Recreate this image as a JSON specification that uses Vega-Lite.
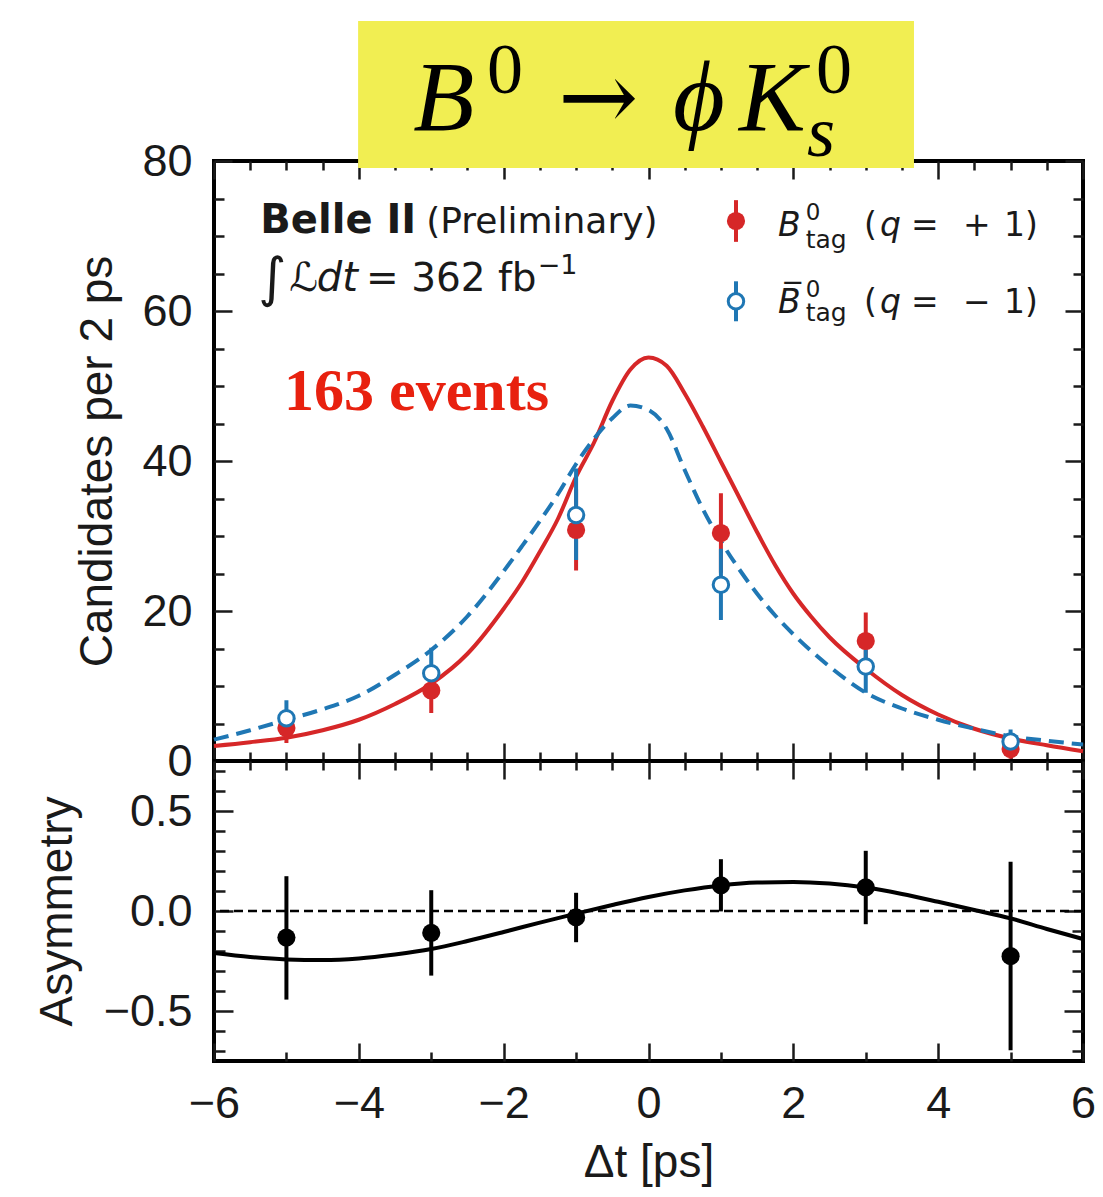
{
  "$schema": "https://vega.github.io/schema/vega-lite/v6.json",
  "padding": {"left": 32, "top": 18, "right": 4, "bottom": 4},
  "spacing": 0,
  "bounds": "flush",
  "background": "white",
  "config": {
    "concat": {"spacing": 0},
    "view": {"stroke": "black", "strokeWidth": 4},
    "axis": {"labelFont": "Liberation Sans", "labelFontSize": 45, "titleFont": "Liberation Sans", "titleFontSize": 46, "titleFontWeight": "normal", "labelColor": "#1a1a1a", "titleColor": "#1a1a1a", "tickColor": "#1a1a1a", "tickWidth": 2.5, "domain": false, "grid": false, "labelOverlap": false, "labelFlush": false, "ticks": true, "minExtent": 0}
  },
  "datasets": {
    "one": [{}],
    "pts": [
      {"t": -5, "tag": "B0", "n": 4.4, "lo": 2.4, "hi": 6.4},
      {"t": -3, "tag": "B0", "n": 9.4, "lo": 6.4, "hi": 12.4},
      {"t": -1, "tag": "B0", "n": 30.8, "lo": 25.4, "hi": 36.2},
      {"t": 1, "tag": "B0", "n": 30.4, "lo": 25.1, "hi": 35.7},
      {"t": 3, "tag": "B0", "n": 16.0, "lo": 12.1, "hi": 19.8},
      {"t": 5, "tag": "B0", "n": 1.6, "lo": 0.3, "hi": 2.9},
      {"t": -5, "tag": "B0bar", "n": 5.7, "lo": 3.4, "hi": 8.1},
      {"t": -3, "tag": "B0bar", "n": 11.7, "lo": 8.4, "hi": 15.1},
      {"t": -1, "tag": "B0bar", "n": 32.8, "lo": 26.8, "hi": 39.0},
      {"t": 1, "tag": "B0bar", "n": 23.5, "lo": 18.8, "hi": 28.3},
      {"t": 3, "tag": "B0bar", "n": 12.6, "lo": 9.1, "hi": 16.2},
      {"t": 5, "tag": "B0bar", "n": 2.6, "lo": 1.0, "hi": 4.2}
    ],
    "fit": [
      {"t": -6, "tag": "B0", "n": 2.0}, {"t": -5.5, "tag": "B0", "n": 2.5}, {"t": -5, "tag": "B0", "n": 3.1}, {"t": -4.5, "tag": "B0", "n": 4.1}, {"t": -4, "tag": "B0", "n": 5.5}, {"t": -3.5, "tag": "B0", "n": 7.6}, {"t": -3, "tag": "B0", "n": 10.3}, {"t": -2.5, "tag": "B0", "n": 14.3}, {"t": -2, "tag": "B0", "n": 20.3}, {"t": -1.75, "tag": "B0", "n": 23.8}, {"t": -1.5, "tag": "B0", "n": 27.9}, {"t": -1.25, "tag": "B0", "n": 32.3}, {"t": -1, "tag": "B0", "n": 37.9}, {"t": -0.75, "tag": "B0", "n": 42.5}, {"t": -0.5, "tag": "B0", "n": 48.0}, {"t": -0.25, "tag": "B0", "n": 52.2}, {"t": 0, "tag": "B0", "n": 53.8}, {"t": 0.25, "tag": "B0", "n": 52.7}, {"t": 0.5, "tag": "B0", "n": 49.0}, {"t": 0.75, "tag": "B0", "n": 44.6}, {"t": 1, "tag": "B0", "n": 39.9}, {"t": 1.25, "tag": "B0", "n": 35.2}, {"t": 1.5, "tag": "B0", "n": 30.5}, {"t": 1.75, "tag": "B0", "n": 26.1}, {"t": 2, "tag": "B0", "n": 22.3}, {"t": 2.25, "tag": "B0", "n": 19.2}, {"t": 2.5, "tag": "B0", "n": 16.5}, {"t": 3, "tag": "B0", "n": 12.3}, {"t": 3.5, "tag": "B0", "n": 8.8}, {"t": 4, "tag": "B0", "n": 6.2}, {"t": 4.5, "tag": "B0", "n": 4.3}, {"t": 5, "tag": "B0", "n": 3.0}, {"t": 5.5, "tag": "B0", "n": 2.1}, {"t": 6, "tag": "B0", "n": 1.3},
      {"t": -6, "tag": "B0bar", "n": 2.85}, {"t": -5.5, "tag": "B0bar", "n": 4.1}, {"t": -5, "tag": "B0bar", "n": 5.5}, {"t": -4.5, "tag": "B0bar", "n": 6.9}, {"t": -4, "tag": "B0bar", "n": 8.7}, {"t": -3.5, "tag": "B0bar", "n": 11.5}, {"t": -3, "tag": "B0bar", "n": 14.8}, {"t": -2.5, "tag": "B0bar", "n": 19.3}, {"t": -2, "tag": "B0bar", "n": 25.3}, {"t": -1.75, "tag": "B0bar", "n": 28.6}, {"t": -1.5, "tag": "B0bar", "n": 32.0}, {"t": -1.25, "tag": "B0bar", "n": 35.6}, {"t": -1, "tag": "B0bar", "n": 39.6}, {"t": -0.75, "tag": "B0bar", "n": 43.0}, {"t": -0.5, "tag": "B0bar", "n": 45.7}, {"t": -0.25, "tag": "B0bar", "n": 47.4}, {"t": 0, "tag": "B0bar", "n": 46.8}, {"t": 0.25, "tag": "B0bar", "n": 44.3}, {"t": 0.5, "tag": "B0bar", "n": 38.8}, {"t": 0.75, "tag": "B0bar", "n": 33.6}, {"t": 1, "tag": "B0bar", "n": 29.3}, {"t": 1.25, "tag": "B0bar", "n": 25.6}, {"t": 1.5, "tag": "B0bar", "n": 22.3}, {"t": 1.75, "tag": "B0bar", "n": 19.4}, {"t": 2, "tag": "B0bar", "n": 16.9}, {"t": 2.5, "tag": "B0bar", "n": 12.6}, {"t": 3, "tag": "B0bar", "n": 9.1}, {"t": 3.5, "tag": "B0bar", "n": 7.0}, {"t": 4, "tag": "B0bar", "n": 5.5}, {"t": 4.5, "tag": "B0bar", "n": 4.3}, {"t": 5, "tag": "B0bar", "n": 3.3}, {"t": 5.5, "tag": "B0bar", "n": 2.7}, {"t": 6, "tag": "B0bar", "n": 2.2}
    ],
    "asym": [
      {"t": -5, "a": -0.133, "lo": -0.443, "hi": 0.174},
      {"t": -3, "a": -0.109, "lo": -0.323, "hi": 0.104},
      {"t": -1, "a": -0.032, "lo": -0.156, "hi": 0.091},
      {"t": 1, "a": 0.128, "lo": -0.002, "hi": 0.259},
      {"t": 3, "a": 0.118, "lo": -0.066, "hi": 0.301},
      {"t": 5, "a": -0.226, "lo": -0.696, "hi": 0.246}
    ],
    "asymfit": [
      {"t": -6, "a": -0.21}, {"t": -5.5, "a": -0.23}, {"t": -5, "a": -0.242}, {"t": -4.5, "a": -0.245}, {"t": -4, "a": -0.237}, {"t": -3.5, "a": -0.217}, {"t": -3, "a": -0.19}, {"t": -2.5, "a": -0.15}, {"t": -2, "a": -0.105}, {"t": -1.5, "a": -0.058}, {"t": -1, "a": -0.013}, {"t": -0.5, "a": 0.03}, {"t": 0, "a": 0.07}, {"t": 0.5, "a": 0.103}, {"t": 1, "a": 0.128}, {"t": 1.5, "a": 0.142}, {"t": 2, "a": 0.145}, {"t": 2.5, "a": 0.137}, {"t": 3, "a": 0.117}, {"t": 3.5, "a": 0.085}, {"t": 4, "a": 0.046}, {"t": 4.5, "a": 0.005}, {"t": 5, "a": -0.037}, {"t": 5.5, "a": -0.09}, {"t": 6, "a": -0.14}
    ]
  },
  "vconcat": [
    {
      "width": 869,
      "height": 600,
      "resolve": {"axis": {"x": "independent", "y": "independent"}},
      "layer": [
        {
          "data": {"name": "fit"},
          "transform": [{"filter": "datum.tag === 'B0'"}],
          "mark": {"type": "line", "color": "#d62728", "strokeWidth": 4, "interpolate": "monotone"},
          "encoding": {
            "x": {"field": "t", "type": "quantitative", "scale": {"domain": [-6, 6], "nice": false, "zero": false},
              "axis": {"orient": "bottom", "values": [-6,-5.5,-5,-4.5,-4,-3.5,-3,-2.5,-2,-1.5,-1,-0.5,0,0.5,1,1.5,2,2.5,3,3.5,4,4.5,5,5.5,6], "labels": false, "title": null, "tickSize": {"condition": {"test": "datum.value % 2 === 0", "value": -18}, "value": -9}}},
            "y": {"field": "n", "type": "quantitative", "scale": {"domain": [0, 80], "nice": false, "zero": false},
              "axis": {"orient": "left", "values": [0,5,10,15,20,25,30,35,40,45,50,55,60,65,70,75,80], "format": "d", "labelExpr": "datum.value % 20 === 0 ? datum.label : ''", "labelPadding": 40, "title": "Candidates per 2 ps", "titlePadding": 20, "tickSize": {"condition": {"test": "datum.value % 20 === 0", "value": -18}, "value": -10}}}
          }
        },
        {
          "data": {"name": "fit"},
          "transform": [{"filter": "datum.tag === 'B0bar'"}],
          "mark": {"type": "line", "color": "#1f77b4", "strokeWidth": 4, "strokeDash": [15, 8], "interpolate": "monotone"},
          "encoding": {
            "x": {"field": "t", "type": "quantitative", "scale": {"domain": [-6, 6], "nice": false, "zero": false},
              "axis": {"orient": "top", "values": [-6,-5.5,-5,-4.5,-4,-3.5,-3,-2.5,-2,-1.5,-1,-0.5,0,0.5,1,1.5,2,2.5,3,3.5,4,4.5,5,5.5,6], "labels": false, "title": null, "tickSize": {"condition": {"test": "datum.value % 2 === 0", "value": -18}, "value": -9}}},
            "y": {"field": "n", "type": "quantitative", "scale": {"domain": [0, 80], "nice": false, "zero": false},
              "axis": {"orient": "right", "values": [0,5,10,15,20,25,30,35,40,45,50,55,60,65,70,75,80], "labels": false, "title": null, "tickSize": {"condition": {"test": "datum.value % 20 === 0", "value": -18}, "value": -10}}}
          }
        },
        {
          "data": {"name": "pts"},
          "transform": [{"filter": "datum.tag === 'B0'"}],
          "mark": {"type": "rule", "color": "#d62728", "strokeWidth": 4},
          "encoding": {
            "x": {"field": "t", "type": "quantitative", "scale": {"domain": [-6, 6], "nice": false, "zero": false}, "axis": null},
            "y": {"field": "lo", "type": "quantitative", "scale": {"domain": [0, 80], "nice": false, "zero": false}, "axis": null},
            "y2": {"field": "hi"}
          }
        },
        {
          "data": {"name": "pts"},
          "transform": [{"filter": "datum.tag === 'B0bar'"}],
          "mark": {"type": "rule", "color": "#1f77b4", "strokeWidth": 4},
          "encoding": {
            "x": {"field": "t", "type": "quantitative", "scale": {"domain": [-6, 6], "nice": false, "zero": false}, "axis": null},
            "y": {"field": "lo", "type": "quantitative", "scale": {"domain": [0, 80], "nice": false, "zero": false}, "axis": null},
            "y2": {"field": "hi"}
          }
        },
        {
          "data": {"name": "pts"},
          "transform": [{"filter": "datum.tag === 'B0'"}],
          "mark": {"type": "point", "shape": "circle", "filled": true, "color": "#d62728", "size": 330, "opacity": 1},
          "encoding": {
            "x": {"field": "t", "type": "quantitative", "scale": {"domain": [-6, 6], "nice": false, "zero": false}, "axis": null},
            "y": {"field": "n", "type": "quantitative", "scale": {"domain": [0, 80], "nice": false, "zero": false}, "axis": null}
          }
        },
        {
          "data": {"name": "pts"},
          "transform": [{"filter": "datum.tag === 'B0bar'"}],
          "mark": {"type": "point", "shape": "circle", "filled": false, "fill": "white", "fillOpacity": 1, "stroke": "#1f77b4", "strokeWidth": 3, "size": 240, "opacity": 1},
          "encoding": {
            "x": {"field": "t", "type": "quantitative", "scale": {"domain": [-6, 6], "nice": false, "zero": false}, "axis": null},
            "y": {"field": "n", "type": "quantitative", "scale": {"domain": [0, 80], "nice": false, "zero": false}, "axis": null}
          }
        },
        {
          "data": {"name": "one"},
          "mark": {"type": "rect", "color": "#f1ee52"},
          "encoding": {
            "x": {"datum": -4.01, "type": "quantitative", "scale": {"domain": [-6, 6], "nice": false, "zero": false}, "axis": null},
            "x2": {"datum": 3.666},
            "y": {"datum": 79.07, "type": "quantitative", "scale": {"domain": [0, 80], "nice": false, "zero": false}, "axis": null},
            "y2": {"datum": 98.67}
          }
        },
        {"data": {"name": "one"}, "mark": {"type": "text", "text": "B", "font": "Liberation Serif", "fontStyle": "italic", "fontSize": 100, "align": "left", "baseline": "alphabetic", "color": "black"},
          "encoding": {"x": {"datum": -3.25, "type": "quantitative", "axis": null}, "y": {"datum": 84.13, "type": "quantitative", "axis": null}}},
        {"data": {"name": "one"}, "mark": {"type": "text", "text": "0", "font": "Liberation Serif", "fontSize": 72, "align": "left", "baseline": "alphabetic", "color": "black"},
          "encoding": {"x": {"datum": -2.231, "type": "quantitative", "axis": null}, "y": {"datum": 89.07, "type": "quantitative", "axis": null}}},
        {"data": {"name": "one"}, "mark": {"type": "text", "text": "→", "font": "DejaVu Serif", "fontSize": 96, "align": "left", "baseline": "alphabetic", "color": "black"},
          "encoding": {"x": {"datum": -1.25, "type": "quantitative", "axis": null}, "y": {"datum": 84.13, "type": "quantitative", "axis": null}}},
        {"data": {"name": "one"}, "mark": {"type": "text", "text": "ϕ", "font": "Liberation Serif", "fontStyle": "italic", "fontSize": 100, "align": "left", "baseline": "alphabetic", "color": "black"},
          "encoding": {"x": {"datum": 0.338, "type": "quantitative", "axis": null}, "y": {"datum": 84.13, "type": "quantitative", "axis": null}}},
        {"data": {"name": "one"}, "mark": {"type": "text", "text": "K", "font": "Liberation Serif", "fontStyle": "italic", "fontSize": 100, "align": "left", "baseline": "alphabetic", "color": "black"},
          "encoding": {"x": {"datum": 1.249, "type": "quantitative", "axis": null}, "y": {"datum": 84.13, "type": "quantitative", "axis": null}}},
        {"data": {"name": "one"}, "mark": {"type": "text", "text": "0", "font": "Liberation Serif", "fontSize": 72, "align": "left", "baseline": "alphabetic", "color": "black"},
          "encoding": {"x": {"datum": 2.313, "type": "quantitative", "axis": null}, "y": {"datum": 89.07, "type": "quantitative", "axis": null}}},
        {"data": {"name": "one"}, "mark": {"type": "text", "text": "s", "font": "Liberation Serif", "fontStyle": "italic", "fontSize": 72, "align": "left", "baseline": "alphabetic", "color": "black"},
          "encoding": {"x": {"datum": 2.189, "type": "quantitative", "axis": null}, "y": {"datum": 80.67, "type": "quantitative", "axis": null}}},
        {"data": {"name": "one"}, "mark": {"type": "text", "text": "Belle II", "font": "DejaVu Sans", "fontWeight": "bold", "fontSize": 40, "align": "left", "baseline": "alphabetic", "color": "#1a1a1a"},
          "encoding": {"x": {"datum": -5.36, "type": "quantitative", "axis": null}, "y": {"datum": 70.4, "type": "quantitative", "axis": null}}},
        {"data": {"name": "one"}, "mark": {"type": "text", "text": "(Preliminary)", "font": "DejaVu Sans", "fontSize": 36, "align": "left", "baseline": "alphabetic", "color": "#1a1a1a"},
          "encoding": {"x": {"datum": -3.07, "type": "quantitative", "axis": null}, "y": {"datum": 70.4, "type": "quantitative", "axis": null}}},
        {"data": {"name": "one"}, "mark": {"type": "text", "text": "∫", "font": "DejaVu Sans", "fontSize": 54, "align": "left", "baseline": "alphabetic", "color": "#1a1a1a"},
          "encoding": {"x": {"datum": -5.39, "type": "quantitative", "axis": null}, "y": {"datum": 62.0, "type": "quantitative", "axis": null}}},
        {"data": {"name": "one"}, "mark": {"type": "text", "text": "ℒ", "font": "DejaVu Sans", "fontSize": 40, "align": "left", "baseline": "alphabetic", "color": "#1a1a1a"},
          "encoding": {"x": {"datum": -4.96, "type": "quantitative", "axis": null}, "y": {"datum": 62.67, "type": "quantitative", "axis": null}}},
        {"data": {"name": "one"}, "mark": {"type": "text", "text": "dt", "font": "DejaVu Sans", "fontStyle": "italic", "fontSize": 40, "align": "left", "baseline": "alphabetic", "color": "#1a1a1a"},
          "encoding": {"x": {"datum": -4.58, "type": "quantitative", "axis": null}, "y": {"datum": 62.67, "type": "quantitative", "axis": null}}},
        {"data": {"name": "one"}, "mark": {"type": "text", "text": "= 362 fb", "font": "DejaVu Sans", "fontSize": 39, "align": "left", "baseline": "alphabetic", "color": "#1a1a1a"},
          "encoding": {"x": {"datum": -3.9, "type": "quantitative", "axis": null}, "y": {"datum": 62.67, "type": "quantitative", "axis": null}}},
        {"data": {"name": "one"}, "mark": {"type": "text", "text": "−1", "font": "DejaVu Sans", "fontSize": 27, "align": "left", "baseline": "alphabetic", "color": "#1a1a1a"},
          "encoding": {"x": {"datum": -1.53, "type": "quantitative", "axis": null}, "y": {"datum": 64.87, "type": "quantitative", "axis": null}}},
        {"data": {"name": "one"}, "mark": {"type": "text", "text": "163 events", "font": "Liberation Serif", "fontWeight": "bold", "fontSize": 60, "align": "left", "baseline": "alphabetic", "color": "#e8210f"},
          "encoding": {"x": {"datum": -5.033, "type": "quantitative", "axis": null}, "y": {"datum": 46.8, "type": "quantitative", "axis": null}}},
        {"data": {"name": "one"}, "mark": {"type": "rule", "color": "#d62728", "strokeWidth": 4},
          "encoding": {"x": {"datum": 1.208, "type": "quantitative", "axis": null}, "y": {"datum": 69.22, "type": "quantitative", "axis": null}, "y2": {"datum": 74.78}}},
        {"data": {"name": "one"}, "mark": {"type": "point", "shape": "circle", "filled": true, "color": "#d62728", "size": 330, "opacity": 1},
          "encoding": {"x": {"datum": 1.208, "type": "quantitative", "axis": null}, "y": {"datum": 72.0, "type": "quantitative", "axis": null}}},
        {"data": {"name": "one"}, "mark": {"type": "rule", "color": "#1f77b4", "strokeWidth": 4},
          "encoding": {"x": {"datum": 1.208, "type": "quantitative", "axis": null}, "y": {"datum": 58.63, "type": "quantitative", "axis": null}, "y2": {"datum": 63.96}}},
        {"data": {"name": "one"}, "mark": {"type": "point", "shape": "circle", "filled": false, "fill": "white", "fillOpacity": 1, "stroke": "#1f77b4", "strokeWidth": 3, "size": 240, "opacity": 1},
          "encoding": {"x": {"datum": 1.208, "type": "quantitative", "axis": null}, "y": {"datum": 61.29, "type": "quantitative", "axis": null}}},
        {"data": {"name": "one"}, "mark": {"type": "text", "text": "B", "font": "DejaVu Sans", "fontStyle": "italic", "fontSize": 33, "align": "left", "baseline": "alphabetic", "color": "#1a1a1a"},
          "encoding": {"x": {"datum": 1.788, "type": "quantitative", "axis": null}, "y": {"datum": 69.96, "type": "quantitative", "axis": null}}},
        {"data": {"name": "one"}, "mark": {"type": "text", "text": "0", "font": "DejaVu Sans", "fontSize": 23, "align": "left", "baseline": "alphabetic", "color": "#1a1a1a"},
          "encoding": {"x": {"datum": 2.17, "type": "quantitative", "axis": null}, "y": {"datum": 72.13, "type": "quantitative", "axis": null}}},
        {"data": {"name": "one"}, "mark": {"type": "text", "text": "tag", "font": "DejaVu Sans", "fontSize": 25, "align": "left", "baseline": "alphabetic", "color": "#1a1a1a"},
          "encoding": {"x": {"datum": 2.17, "type": "quantitative", "axis": null}, "y": {"datum": 68.44, "type": "quantitative", "axis": null}}},
        {"data": {"name": "one"}, "mark": {"type": "text", "text": "(", "font": "DejaVu Sans", "fontSize": 33, "align": "left", "baseline": "alphabetic", "color": "#1a1a1a"},
          "encoding": {"x": {"datum": 2.975, "type": "quantitative", "axis": null}, "y": {"datum": 69.96, "type": "quantitative", "axis": null}}},
        {"data": {"name": "one"}, "mark": {"type": "text", "text": "q", "font": "DejaVu Sans", "fontStyle": "italic", "fontSize": 33, "align": "left", "baseline": "alphabetic", "color": "#1a1a1a"},
          "encoding": {"x": {"datum": 3.197, "type": "quantitative", "axis": null}, "y": {"datum": 69.96, "type": "quantitative", "axis": null}}},
        {"data": {"name": "one"}, "mark": {"type": "text", "text": "=", "font": "DejaVu Sans", "fontSize": 33, "align": "left", "baseline": "alphabetic", "color": "#1a1a1a"},
          "encoding": {"x": {"datum": 3.625, "type": "quantitative", "axis": null}, "y": {"datum": 69.96, "type": "quantitative", "axis": null}}},
        {"data": {"name": "one"}, "mark": {"type": "text", "text": "+", "font": "DejaVu Sans", "fontSize": 33, "align": "left", "baseline": "alphabetic", "color": "#1a1a1a"},
          "encoding": {"x": {"datum": 4.343, "type": "quantitative", "axis": null}, "y": {"datum": 69.96, "type": "quantitative", "axis": null}}},
        {"data": {"name": "one"}, "mark": {"type": "text", "text": "1)", "font": "DejaVu Sans", "fontSize": 33, "align": "left", "baseline": "alphabetic", "color": "#1a1a1a"},
          "encoding": {"x": {"datum": 4.909, "type": "quantitative", "axis": null}, "y": {"datum": 69.96, "type": "quantitative", "axis": null}}},
        {"data": {"name": "one"}, "mark": {"type": "text", "text": "B̅", "font": "DejaVu Sans", "fontStyle": "italic", "fontSize": 33, "align": "left", "baseline": "alphabetic", "color": "#1a1a1a"},
          "encoding": {"x": {"datum": 1.788, "type": "quantitative", "axis": null}, "y": {"datum": 59.73, "type": "quantitative", "axis": null}}},
        {"data": {"name": "one"}, "mark": {"type": "text", "text": "0", "font": "DejaVu Sans", "fontSize": 23, "align": "left", "baseline": "alphabetic", "color": "#1a1a1a"},
          "encoding": {"x": {"datum": 2.17, "type": "quantitative", "axis": null}, "y": {"datum": 61.87, "type": "quantitative", "axis": null}}},
        {"data": {"name": "one"}, "mark": {"type": "text", "text": "tag", "font": "DejaVu Sans", "fontSize": 25, "align": "left", "baseline": "alphabetic", "color": "#1a1a1a"},
          "encoding": {"x": {"datum": 2.17, "type": "quantitative", "axis": null}, "y": {"datum": 58.63, "type": "quantitative", "axis": null}}},
        {"data": {"name": "one"}, "mark": {"type": "text", "text": "(", "font": "DejaVu Sans", "fontSize": 33, "align": "left", "baseline": "alphabetic", "color": "#1a1a1a"},
          "encoding": {"x": {"datum": 2.975, "type": "quantitative", "axis": null}, "y": {"datum": 59.73, "type": "quantitative", "axis": null}}},
        {"data": {"name": "one"}, "mark": {"type": "text", "text": "q", "font": "DejaVu Sans", "fontStyle": "italic", "fontSize": 33, "align": "left", "baseline": "alphabetic", "color": "#1a1a1a"},
          "encoding": {"x": {"datum": 3.197, "type": "quantitative", "axis": null}, "y": {"datum": 59.73, "type": "quantitative", "axis": null}}},
        {"data": {"name": "one"}, "mark": {"type": "text", "text": "=", "font": "DejaVu Sans", "fontSize": 33, "align": "left", "baseline": "alphabetic", "color": "#1a1a1a"},
          "encoding": {"x": {"datum": 3.625, "type": "quantitative", "axis": null}, "y": {"datum": 59.73, "type": "quantitative", "axis": null}}},
        {"data": {"name": "one"}, "mark": {"type": "text", "text": "−", "font": "DejaVu Sans", "fontSize": 33, "align": "left", "baseline": "alphabetic", "color": "#1a1a1a"},
          "encoding": {"x": {"datum": 4.343, "type": "quantitative", "axis": null}, "y": {"datum": 59.73, "type": "quantitative", "axis": null}}},
        {"data": {"name": "one"}, "mark": {"type": "text", "text": "1)", "font": "DejaVu Sans", "fontSize": 33, "align": "left", "baseline": "alphabetic", "color": "#1a1a1a"},
          "encoding": {"x": {"datum": 4.909, "type": "quantitative", "axis": null}, "y": {"datum": 59.73, "type": "quantitative", "axis": null}}}
      ]
    },
    {
      "width": 869,
      "height": 300,
      "resolve": {"axis": {"x": "independent", "y": "independent"}},
      "layer": [
        {
          "data": {"name": "asymfit"},
          "mark": {"type": "line", "color": "black", "strokeWidth": 4, "interpolate": "monotone"},
          "encoding": {
            "x": {"field": "t", "type": "quantitative", "scale": {"domain": [-6, 6], "nice": false, "zero": false},
              "axis": {"orient": "bottom", "values": [-6,-5.5,-5,-4.5,-4,-3.5,-3,-2.5,-2,-1.5,-1,-0.5,0,0.5,1,1.5,2,2.5,3,3.5,4,4.5,5,5.5,6], "format": "d", "labelExpr": "datum.value % 2 === 0 ? datum.label : ''", "labelPadding": 38, "title": "Δt [ps]", "titlePadding": 5, "tickSize": {"condition": {"test": "datum.value % 2 === 0", "value": -18}, "value": -9}}},
            "y": {"field": "a", "type": "quantitative", "scale": {"domain": [-0.75, 0.75], "nice": false, "zero": false},
              "axis": {"orient": "left", "values": [-0.7,-0.6,-0.5,-0.4,-0.3,-0.2,-0.1,0,0.1,0.2,0.3,0.4,0.5,0.6,0.7], "format": ".1f", "labelExpr": "(datum.value === 0 || abs(datum.value) === 0.5) ? datum.label : ''", "labelPadding": 41, "title": "Asymmetry", "titlePadding": 22, "tickSize": {"condition": {"test": "datum.value === 0 || abs(datum.value) === 0.5", "value": -19}, "value": -11}}}
          }
        },
        {
          "data": {"name": "one"},
          "mark": {"type": "rule", "color": "black", "strokeWidth": 2.5, "strokeDash": [9, 5]},
          "encoding": {
            "y": {"datum": 0, "type": "quantitative", "scale": {"domain": [-0.75, 0.75], "nice": false, "zero": false}, "axis": null}
          }
        },
        {
          "data": {"name": "asym"},
          "mark": {"type": "rule", "color": "black", "strokeWidth": 4},
          "encoding": {
            "x": {"field": "t", "type": "quantitative", "scale": {"domain": [-6, 6], "nice": false, "zero": false},
              "axis": {"orient": "top", "values": [-6,-5.5,-5,-4.5,-4,-3.5,-3,-2.5,-2,-1.5,-1,-0.5,0,0.5,1,1.5,2,2.5,3,3.5,4,4.5,5,5.5,6], "labels": false, "title": null, "tickSize": {"condition": {"test": "datum.value % 2 === 0", "value": -18}, "value": -9}}},
            "y": {"field": "lo", "type": "quantitative", "scale": {"domain": [-0.75, 0.75], "nice": false, "zero": false},
              "axis": {"orient": "right", "values": [-0.7,-0.6,-0.5,-0.4,-0.3,-0.2,-0.1,0,0.1,0.2,0.3,0.4,0.5,0.6,0.7], "labels": false, "title": null, "tickSize": {"condition": {"test": "datum.value === 0 || abs(datum.value) === 0.5", "value": -19}, "value": -11}}},
            "y2": {"field": "hi"}
          }
        },
        {
          "data": {"name": "asym"},
          "mark": {"type": "point", "shape": "circle", "filled": true, "color": "black", "size": 330, "opacity": 1},
          "encoding": {
            "x": {"field": "t", "type": "quantitative", "scale": {"domain": [-6, 6], "nice": false, "zero": false}, "axis": null},
            "y": {"field": "a", "type": "quantitative", "scale": {"domain": [-0.75, 0.75], "nice": false, "zero": false}, "axis": null}
          }
        }
      ]
    }
  ]
}
